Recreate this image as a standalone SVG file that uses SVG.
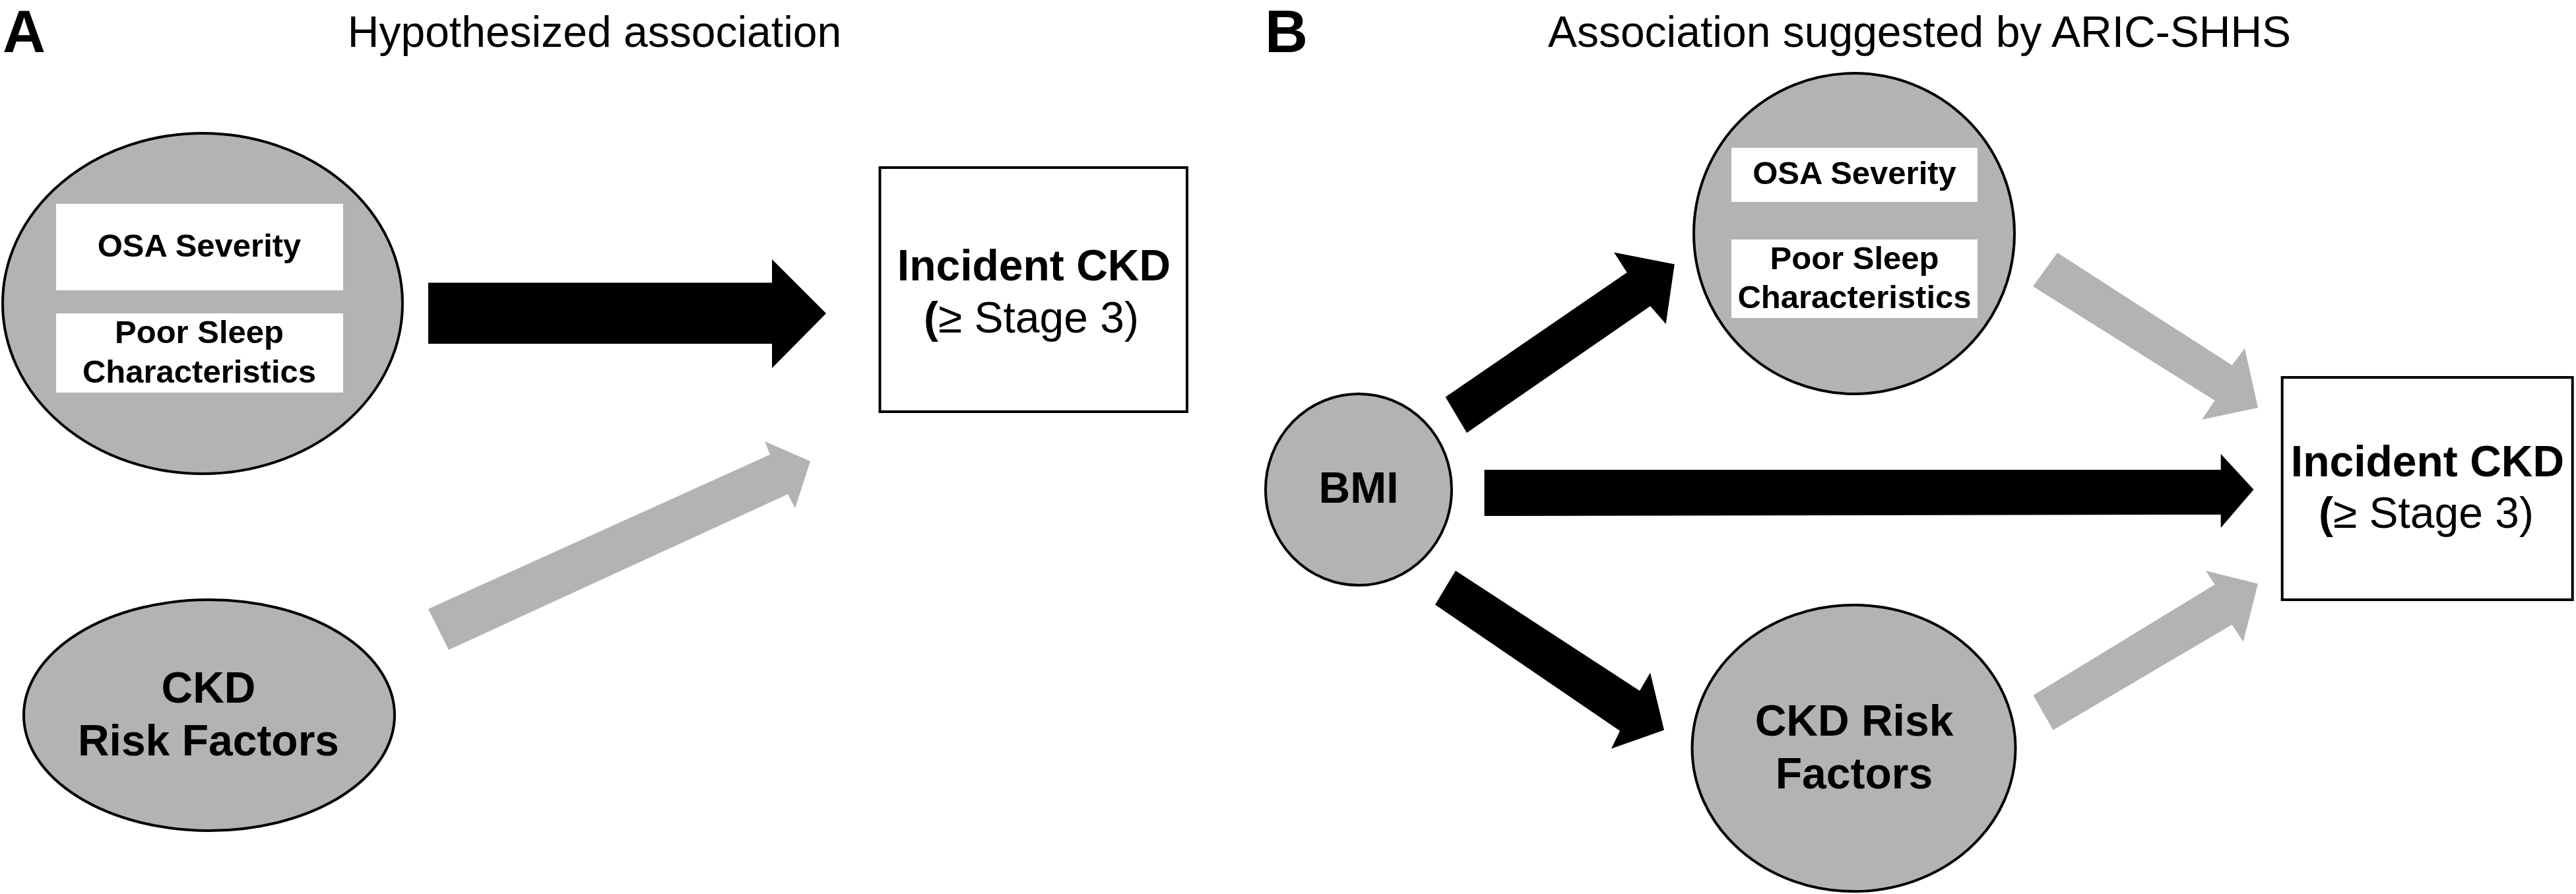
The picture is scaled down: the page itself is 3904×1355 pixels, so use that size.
<svg xmlns="http://www.w3.org/2000/svg" width="3904" height="1355" viewBox="0 0 3904 1355">
<style>
  text { font-family: "Liberation Sans", Arial, Helvetica, sans-serif; fill: #000; }
  .panel { font-size: 90px; font-weight: bold; }
  .title { font-size: 66px; text-anchor: middle; }
  .big { font-size: 66px; font-weight: bold; text-anchor: middle; }
  .sub { font-size: 66px; text-anchor: middle; }
  .small { font-size: 49px; font-weight: bold; text-anchor: middle; }
  .node { fill: #b3b3b3; stroke: #000; stroke-width: 4; }
  .box { fill: #fff; stroke: #000; stroke-width: 4; }
  .inner { fill: #fff; stroke: none; }
  .strong { fill: #000; stroke: none; }
  .weak { fill: #b3b3b3; stroke: none; }
</style>
<rect x="0" y="0" width="3904" height="1355" fill="#fff"/>

<g id="labels">
  <text class="panel" x="4" y="79">A</text>
  <text class="title" x="901" y="71">Hypothesized association</text>
  <text class="panel" x="1917" y="79">B</text>
  <text class="title" x="2909" y="71">Association suggested by ARIC-SHHS</text>
</g>

<g id="connectors">
  <polygon class="strong" points="649,428.6 1170,428.6 1170,393 1252,475 1170,558 1170,521 649,521"/>
  <polygon class="weak" points="649,923 1167,689 1159,669 1228,699 1205,770.5 1194,749 680,985"/>
  <polygon class="strong" points="2190.6,601.8 2465.7,413 2446,382.6 2537.8,400.4 2524.7,491 2501,464 2223,656"/>
  <polygon class="strong" points="2249.6,712 3365.7,712 3365.7,688 3415.5,742 3365.7,800 3365.7,780 2249.6,782"/>
  <polygon class="strong" points="2206,865 2485,1047 2501,1019.6 2522,1106.4 2442,1134.7 2455,1107.7 2175,916.6"/>
  <polygon class="weak" points="3118,383 3382.7,553.6 3402,528 3422,618 3337,636 3356.5,607 3081,434"/>
  <polygon class="weak" points="3081.4,1053.8 3356.5,886 3343,865 3422,884.7 3399.7,972.8 3382.7,946.8 3111.5,1106.4"/>
</g>

<g id="a-sleep">
  <ellipse class="node" cx="307" cy="460" rx="303" ry="258"/>
  <rect class="inner" x="85" y="309" width="435" height="131"/>
  <rect class="inner" x="85" y="475" width="435" height="120"/>
  <text class="small" x="302" y="389">OSA Severity</text>
  <text class="small" x="302" y="520">Poor Sleep</text>
  <text class="small" x="302" y="579.5">Characteristics</text>
</g>

<g id="a-ckd-risk">
  <ellipse class="node" cx="317" cy="1084" rx="281" ry="175"/>
  <text class="big" x="316" y="1065">CKD</text>
  <text class="big" x="316" y="1145">Risk Factors</text>
</g>

<g id="a-incident">
  <rect class="box" x="1333.5" y="254" width="465.5" height="370"/>
  <text class="big" x="1567" y="425">Incident CKD</text>
  <text class="sub" x="1563" y="504"><tspan font-weight="bold">(</tspan>≥ Stage 3)</text>
</g>

<g id="b-bmi">
  <ellipse class="node" cx="2059" cy="742" rx="141" ry="145"/>
  <text class="big" x="2059" y="762" font-size="63">BMI</text>
</g>

<g id="b-sleep">
  <ellipse class="node" cx="2810" cy="354" rx="243" ry="243"/>
  <rect class="inner" x="2624" y="224" width="373" height="82"/>
  <rect class="inner" x="2624" y="363" width="373" height="119"/>
  <text class="small" x="2810.5" y="279">OSA Severity</text>
  <text class="small" x="2810.5" y="408">Poor Sleep</text>
  <text class="small" x="2810.5" y="467">Characteristics</text>
</g>

<g id="b-ckd-risk">
  <ellipse class="node" cx="2809.5" cy="1134" rx="245" ry="217"/>
  <text class="big" x="2810" y="1115">CKD Risk</text>
  <text class="big" x="2810" y="1195">Factors</text>
</g>

<g id="b-incident">
  <rect class="box" x="3458.7" y="572" width="440" height="337"/>
  <text class="big" x="3679" y="721.7">Incident CKD</text>
  <text class="sub" x="3677" y="800"><tspan font-weight="bold">(</tspan>≥ Stage 3)</text>
</g>
</svg>
